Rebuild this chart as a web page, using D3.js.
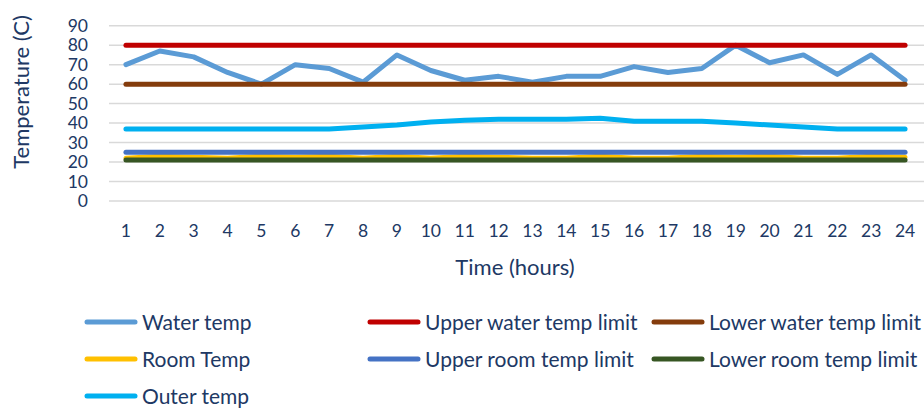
<!DOCTYPE html>
<html>
<head>
<meta charset="utf-8">
<script src="https://cdn.jsdelivr.net/npm/d3@7"></script>
<style>
  body { margin: 0; background: #fff; }
  svg { display: block; }
</style>
</head>
<body>
<div id="chart"></div>
<script>
// hours on the x axis
const hours = d3.range(1, 25);
const yTicks = [0, 10, 20, 30, 40, 50, 60, 70, 80, 90];

// series values
const waterTemp = [70, 77, 74, 66, 60, 70, 68, 61, 75, 67, 62, 64, 61, 64, 64, 69, 66, 68, 80, 71, 75, 65, 75, 62];
const upperWaterLimit = [80, 80, 80, 80, 80, 80, 80, 80, 80, 80, 80, 80, 80, 80, 80, 80, 80, 80, 80, 80, 80, 80, 80, 80];
const lowerWaterLimit = [60, 60, 60, 60, 60, 60, 60, 60, 60, 60, 60, 60, 60, 60, 60, 60, 60, 60, 60, 60, 60, 60, 60, 60];
const roomTemp = [22, 23, 22.5, 22, 23, 22.5, 23, 22, 23, 22, 23, 22.5, 22, 22, 23, 22, 22, 23, 22.5, 23, 22, 22, 23, 22.5];
const upperRoomLimit = [25, 25, 25, 25, 25, 25, 25, 25, 25, 25, 25, 25, 25, 25, 25, 25, 25, 25, 25, 25, 25, 25, 25, 25];
const lowerRoomLimit = [21, 21, 21, 21, 21, 21, 21, 21, 21, 21, 21, 21, 21, 21, 21, 21, 21, 21, 21, 21, 21, 21, 21, 21];
const outerTemp = [37, 37, 37, 37, 37, 37, 37, 38, 39, 40.5, 41.5, 42, 42, 42, 42.5, 41, 41, 41, 40, 39, 38, 37, 37, 37];

const seriesNames = ["Water temp", "Upper water temp limit", "Lower water temp limit", "Room Temp",
    "Upper room temp limit", "Lower room temp limit", "Outer temp"];
const seriesValues = [waterTemp, upperWaterLimit, lowerWaterLimit, roomTemp, upperRoomLimit, lowerRoomLimit, outerTemp];
const seriesColors = ["#5B9BD5", "#C00000", "#843C0C", "#FFC000", "#4472C4", "#375623", "#00B0F0"];

const width = 924, height = 412;
const textColor = "#203864";
const font = "Lato, sans-serif";

const svg = d3.select("#chart").append("svg")
    .attr("width", width)
    .attr("height", height)
    .style("font-family", font);

const x = d3.scaleBand().domain(hours).range([109, 922]).padding(0);
const y = d3.scaleLinear().domain([0, 90]).range([201, 25.7]);
const cx = d => x(d) + x.bandwidth() / 2;

// gridlines
svg.append("g")
    .selectAll("line")
    .data(yTicks)
    .enter().append("line")
    .attr("x1", 109)
    .attr("x2", width)
    .attr("y1", d => y(d))
    .attr("y2", d => y(d))
    .attr("stroke", "#D9D9D9")
    .attr("stroke-width", 1.5);

// y tick labels
svg.append("g")
    .selectAll("text")
    .data(yTicks)
    .enter().append("text")
    .attr("x", 88)
    .attr("y", d => y(d))
    .attr("dy", "0.36em")
    .attr("text-anchor", "end")
    .attr("font-size", 17.5)
    .attr("fill", textColor)
    .text(d => d);

// x tick labels
svg.append("g")
    .selectAll("text")
    .data(hours)
    .enter().append("text")
    .attr("x", d => cx(d))
    .attr("y", 237)
    .attr("text-anchor", "middle")
    .attr("font-size", 17.5)
    .attr("fill", textColor)
    .text(d => d);

// axis titles
svg.append("text")
    .attr("transform", "translate(29,92) rotate(-90)")
    .attr("text-anchor", "middle")
    .attr("font-size", 22)
    .attr("fill", textColor)
    .text("Temperature (C)");

svg.append("text")
    .attr("x", 515)
    .attr("y", 275)
    .attr("text-anchor", "middle")
    .attr("font-size", 22)
    .attr("fill", textColor)
    .text("Time (hours)");

// lines
const line = d3.line()
    .x((d, i) => cx(hours[i]))
    .y(d => y(d));

svg.append("g")
    .selectAll("path")
    .data(seriesValues)
    .enter().append("path")
    .attr("d", d => line(d))
    .attr("fill", "none")
    .attr("stroke", (d, i) => seriesColors[i])
    .attr("stroke-width", 5)
    .attr("stroke-linecap", "round")
    .attr("stroke-linejoin", "round");

// legend
const legendCols = [85, 368, 652];
const legendRows = [322, 359, 396];
const legend = svg.append("g")
    .selectAll("g")
    .data(seriesNames)
    .enter().append("g")
    .attr("transform", (d, i) => `translate(${legendCols[i % 3]},${legendRows[Math.floor(i / 3)]})`);

legend.append("line")
    .attr("x1", 2)
    .attr("x2", 50)
    .attr("stroke", (d, i) => seriesColors[i])
    .attr("stroke-width", 5)
    .attr("stroke-linecap", "round");

legend.append("text")
    .attr("x", 57)
    .attr("dy", "0.36em")
    .attr("font-size", 21)
    .attr("fill", textColor)
    .text(d => d);
</script>
</body>
</html>
